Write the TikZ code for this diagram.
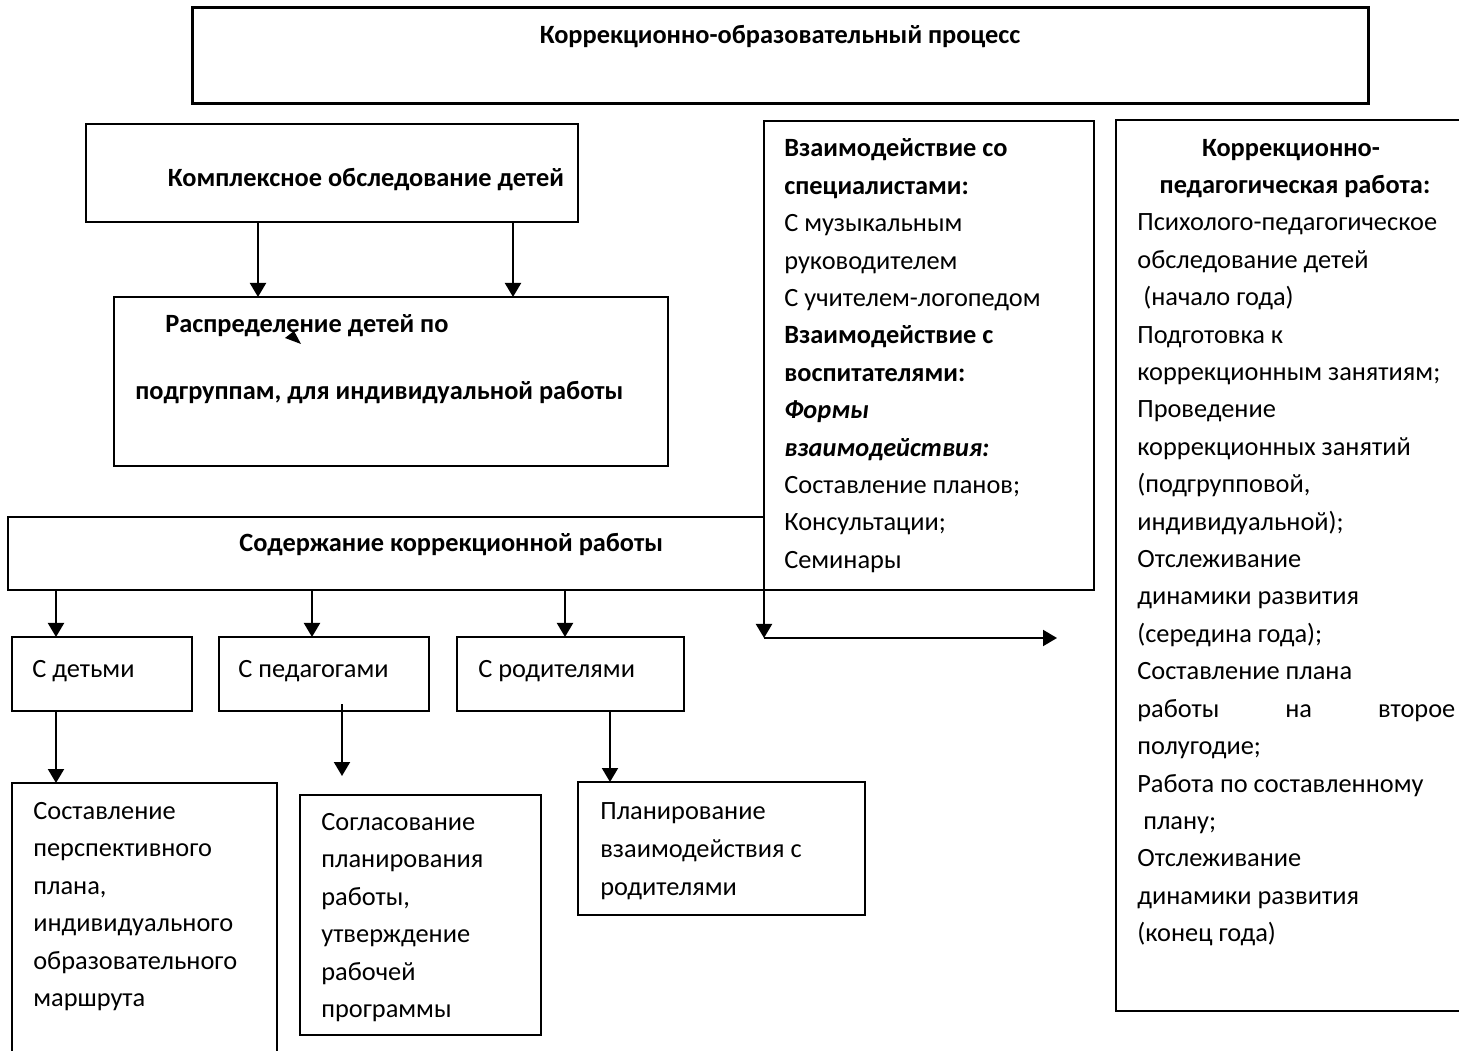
\documentclass[tikz,border=0pt]{standalone}
\usepackage{fontspec}
\setmainfont{Carlito}
\usetikzlibrary{arrows.meta}

% box from (x1,y1) to (x2,y2), in pixels of the page
\newcommand{\bx}[6][]{\node[box,#1, minimum width={(#5-#3)*0.2mm}, minimum height={(#6-#4)*0.2mm}] (#2) at ({(#3+#5)/2},{(#4+#6)/2}) {};}

\begin{document}
\begin{tikzpicture}[x=0.2mm, y=-0.2mm,
    box/.style={draw, line width=0.4mm, inner sep=0pt, outer sep=0pt},
    arr/.style={line width=0.4mm, -{Triangle[length=2.8mm,width=3.2mm]}},
    txt/.style={anchor=base west, inner sep=0pt, font=\fontsize{15}{18}\selectfont},
    ttl/.style={txt, font=\fontsize{15}{18}\selectfont\bfseries}]
  \useasboundingbox (0,0) rectangle (1459,1051);

  % boxes
  \bx[line width=0.6mm]{proc}{192}{8}{1368}{104}
  \bx{kompl}{86}{124}{578}{222}
  \bx{raspr}{114}{297}{668}{466}
  \bx{soder}{8}{517}{764}{590}
  \bx{vzaim}{764}{121}{1094}{590}
  \bx{korr}{1116}{120}{1490}{1011}
  \bx{deti}{12}{637}{192}{711}
  \bx{pedag}{219}{637}{429}{711}
  \bx{rodit}{457}{637}{684}{711}
  \bx{sost}{12}{783}{277}{1080}
  \bx{sogl}{300}{795}{541}{1035}
  \bx{plan}{578}{782}{865}{915}

  % titles
  \node[ttl, anchor=base] (tproc) at (780,44) {Коррекционно-образовательный процесс};
  \node[ttl, anchor=base] (tkompl) at (366,187) {Комплексное обследование детей};
  \node[ttl] (traspr1) at (165,333) {Распределение детей по};
  \node[ttl] (traspr2) at (135,400) {подгруппам, для индивидуальной работы};
  \node[ttl] (tsoder) at (239,552) {Содержание коррекционной работы};
  \node[ttl, anchor=base] (tkorr1) at (1291,157) {Коррекционно-};
  \node[ttl, anchor=base] (tkorr2) at (1295,194) {педагогическая работа:};

  \node[txt] (tdeti) at (32,677) {С детьми};
  \node[txt] (tpedag) at (238,677) {С педагогами};
  \node[txt] (trodit) at (478,677) {С родителями};

  \foreach \t [count=\i from 0] in {{\bfseries Взаимодействие со}, {\bfseries специалистами:},
      С музыкальным, руководителем, С учителем-логопедом, {\bfseries Взаимодействие с},
      {\bfseries воспитателями:}, {\bfseries\itshape Формы}, {\bfseries\itshape взаимодействия:},
      Составление планов;, Консультации;, Семинары}
    \node[txt] (vz\i) at (784,157+37.4*\i) {\t};

  \foreach \t [count=\i from 0] in {Психолого-педагогическое, обследование детей, \ (начало года),
      Подготовка к, коррекционным занятиям;, Проведение, коррекционных занятий,
      {(подгрупповой,}, индивидуальной);, Отслеживание, динамики развития,
      (середина года);, Составление плана, {\hbox to 63.6mm{работы\hfill на\hfill второе}},
      полугодие;, Работа по составленному, \ плану;, Отслеживание, динамики развития,
      (конец года)}
    \node[txt] (kp\i) at (1137,231+37.4*\i) {\t};

  \foreach \t [count=\i from 0] in {Составление, перспективного, {плана,}, индивидуального,
      образовательного, маршрута}
    \node[txt] (ts\i) at (33,819+37.5*\i) {\t};
  \foreach \t [count=\i from 0] in {Согласование, планирования, {работы,}, утверждение,
      рабочей, программы}
    \node[txt] (tg\i) at (321,830+37.5*\i) {\t};
  \foreach \t [count=\i from 0] in {Планирование, взаимодействия с, родителями}
    \node[txt] (tp\i) at (600,819+38*\i) {\t};

  % arrows
  \coordinate (a1) at (258,0);
  \coordinate (a2) at (513,0);
  \draw[arr] (kompl.south -| a1) -- (raspr.north -| a1);
  \draw[arr] (kompl.south -| a2) -- (raspr.north -| a2);
  \fill (285,338) -- (294,331) -- (301,344) -- cycle;

  \coordinate (b1) at (56,0);
  \coordinate (b2) at (312,0);
  \coordinate (b3) at (565,0);
  \draw[arr] (soder.south -| b1) -- (deti.north -| b1);
  \draw[arr] (soder.south -| b2) -- (pedag.north -| b2);
  \draw[arr] (soder.south -| b3) -- (rodit.north -| b3);

  \coordinate (c1) at (764,638);
  \coordinate (c2) at (1057,638);
  \draw[arr] (vzaim.south west) -- (c1);
  \draw[arr] (c1) -- (c2);

  \coordinate (d2s) at (342,704);
  \coordinate (d2e) at (342,776);
  \coordinate (d3) at (610,0);
  \draw[arr] (deti.south -| b1) -- (sost.north -| b1);
  \draw[arr] (d2s) -- (d2e);
  \draw[arr] (rodit.south -| d3) -- (plan.north -| d3);
\end{tikzpicture}
\end{document}
